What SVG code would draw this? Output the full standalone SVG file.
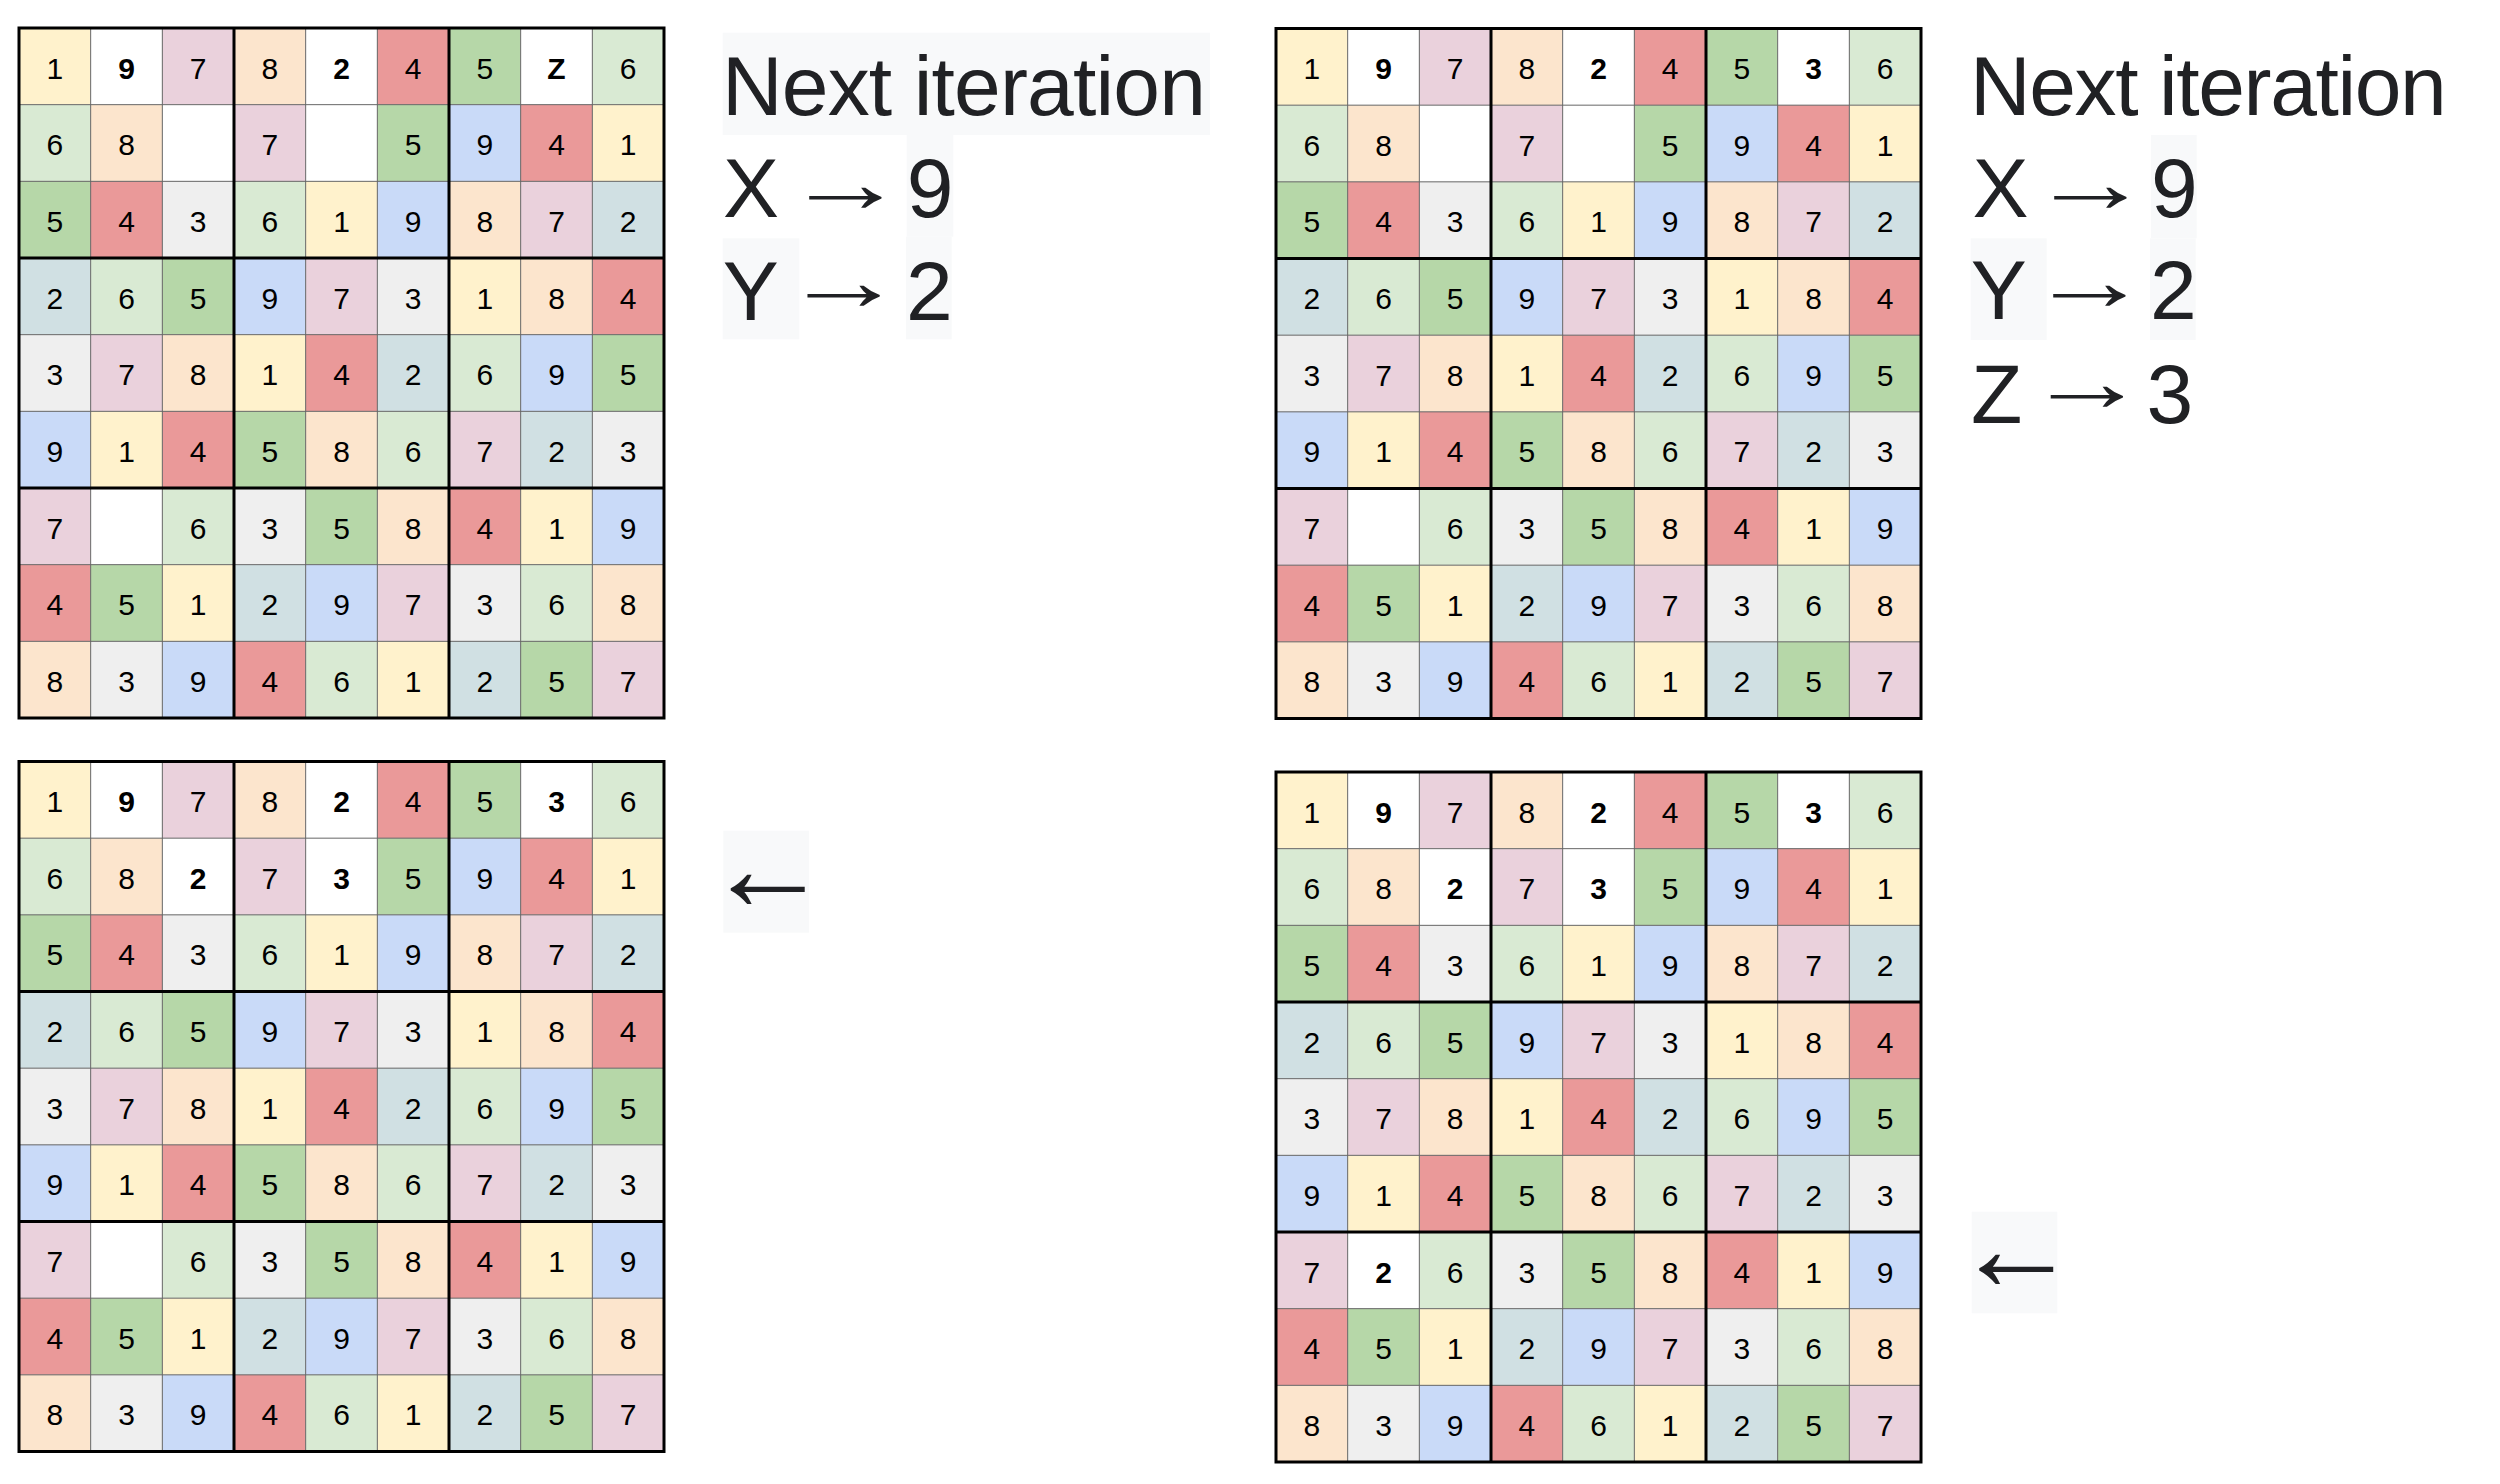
<svg xmlns="http://www.w3.org/2000/svg" width="2500" height="1484" viewBox="0 0 2500 1484">
<style>
.d1{fill:#fff2cc}.d2{fill:#d0e0e3}.d3{fill:#efefef}.d4{fill:#ea9999}.d5{fill:#b6d7a8}.d6{fill:#d9ead3}.d7{fill:#ead1dc}.d8{fill:#fce5cd}.d9{fill:#c9daf8}.w{fill:#ffffff}
.board text{font-family:"Liberation Sans",Arial,sans-serif;font-size:30px;text-anchor:middle;fill:#000}
.board text.b{font-weight:bold}
.thin{fill:none;stroke:#666;stroke-width:1}
.thick{fill:none;stroke:#000;stroke-width:3;stroke-linecap:square}
.hl{fill:#f8f9fa}
.lbl{font-family:"Liberation Sans",Arial,sans-serif;font-size:84px;fill:#202124}
.ra{font-family:"Liberation Sans",Arial,sans-serif;font-size:86px;fill:#202124}
.arr{font-family:"Liberation Sans",Arial,sans-serif;font-size:125px;fill:#202124}
</style>
<defs>
<path id="gl" d="M71.67 0V690M143.33 0V690M286.67 0V690M358.33 0V690M501.67 0V690M573.33 0V690M0 76.67H645M0 153.33H645M0 306.67H645M0 383.33H645M0 536.67H645M0 613.33H645"/>
</defs>

<g id="board1" class="board" transform="translate(19,28)">
<g transform="translate(0,0)"><rect class="d1" x="0" width="71.67" height="76.67"/><rect class="w" x="71.67" width="71.67" height="76.67"/><rect class="d7" x="143.33" width="71.67" height="76.67"/><rect class="d8" x="215" width="71.67" height="76.67"/><rect class="w" x="286.67" width="71.67" height="76.67"/><rect class="d4" x="358.33" width="71.67" height="76.67"/><rect class="d5" x="430" width="71.67" height="76.67"/><rect class="w" x="501.67" width="71.67" height="76.67"/><rect class="d6" x="573.33" width="71.67" height="76.67"/><text x="35.8" y="50.5">1</text><text class="b" x="107.5" y="50.5">9</text><text x="179.2" y="50.5">7</text><text x="250.8" y="50.5">8</text><text class="b" x="322.5" y="50.5">2</text><text x="394.2" y="50.5">4</text><text x="465.8" y="50.5">5</text><text class="b" x="537.5" y="50.5">Z</text><text x="609.2" y="50.5">6</text></g>
<g transform="translate(0,76.67)"><rect class="d6" x="0" width="71.67" height="76.67"/><rect class="d8" x="71.67" width="71.67" height="76.67"/><rect class="w" x="143.33" width="71.67" height="76.67"/><rect class="d7" x="215" width="71.67" height="76.67"/><rect class="w" x="286.67" width="71.67" height="76.67"/><rect class="d5" x="358.33" width="71.67" height="76.67"/><rect class="d9" x="430" width="71.67" height="76.67"/><rect class="d4" x="501.67" width="71.67" height="76.67"/><rect class="d1" x="573.33" width="71.67" height="76.67"/><text x="35.8" y="50.5">6</text><text x="107.5" y="50.5">8</text><text x="250.8" y="50.5">7</text><text x="394.2" y="50.5">5</text><text x="465.8" y="50.5">9</text><text x="537.5" y="50.5">4</text><text x="609.2" y="50.5">1</text></g>
<g transform="translate(0,153.33)"><rect class="d5" x="0" width="71.67" height="76.67"/><rect class="d4" x="71.67" width="71.67" height="76.67"/><rect class="d3" x="143.33" width="71.67" height="76.67"/><rect class="d6" x="215" width="71.67" height="76.67"/><rect class="d1" x="286.67" width="71.67" height="76.67"/><rect class="d9" x="358.33" width="71.67" height="76.67"/><rect class="d8" x="430" width="71.67" height="76.67"/><rect class="d7" x="501.67" width="71.67" height="76.67"/><rect class="d2" x="573.33" width="71.67" height="76.67"/><text x="35.8" y="50.5">5</text><text x="107.5" y="50.5">4</text><text x="179.2" y="50.5">3</text><text x="250.8" y="50.5">6</text><text x="322.5" y="50.5">1</text><text x="394.2" y="50.5">9</text><text x="465.8" y="50.5">8</text><text x="537.5" y="50.5">7</text><text x="609.2" y="50.5">2</text></g>
<g transform="translate(0,230)"><rect class="d2" x="0" width="71.67" height="76.67"/><rect class="d6" x="71.67" width="71.67" height="76.67"/><rect class="d5" x="143.33" width="71.67" height="76.67"/><rect class="d9" x="215" width="71.67" height="76.67"/><rect class="d7" x="286.67" width="71.67" height="76.67"/><rect class="d3" x="358.33" width="71.67" height="76.67"/><rect class="d1" x="430" width="71.67" height="76.67"/><rect class="d8" x="501.67" width="71.67" height="76.67"/><rect class="d4" x="573.33" width="71.67" height="76.67"/><text x="35.8" y="50.5">2</text><text x="107.5" y="50.5">6</text><text x="179.2" y="50.5">5</text><text x="250.8" y="50.5">9</text><text x="322.5" y="50.5">7</text><text x="394.2" y="50.5">3</text><text x="465.8" y="50.5">1</text><text x="537.5" y="50.5">8</text><text x="609.2" y="50.5">4</text></g>
<g transform="translate(0,306.67)"><rect class="d3" x="0" width="71.67" height="76.67"/><rect class="d7" x="71.67" width="71.67" height="76.67"/><rect class="d8" x="143.33" width="71.67" height="76.67"/><rect class="d1" x="215" width="71.67" height="76.67"/><rect class="d4" x="286.67" width="71.67" height="76.67"/><rect class="d2" x="358.33" width="71.67" height="76.67"/><rect class="d6" x="430" width="71.67" height="76.67"/><rect class="d9" x="501.67" width="71.67" height="76.67"/><rect class="d5" x="573.33" width="71.67" height="76.67"/><text x="35.8" y="50.5">3</text><text x="107.5" y="50.5">7</text><text x="179.2" y="50.5">8</text><text x="250.8" y="50.5">1</text><text x="322.5" y="50.5">4</text><text x="394.2" y="50.5">2</text><text x="465.8" y="50.5">6</text><text x="537.5" y="50.5">9</text><text x="609.2" y="50.5">5</text></g>
<g transform="translate(0,383.33)"><rect class="d9" x="0" width="71.67" height="76.67"/><rect class="d1" x="71.67" width="71.67" height="76.67"/><rect class="d4" x="143.33" width="71.67" height="76.67"/><rect class="d5" x="215" width="71.67" height="76.67"/><rect class="d8" x="286.67" width="71.67" height="76.67"/><rect class="d6" x="358.33" width="71.67" height="76.67"/><rect class="d7" x="430" width="71.67" height="76.67"/><rect class="d2" x="501.67" width="71.67" height="76.67"/><rect class="d3" x="573.33" width="71.67" height="76.67"/><text x="35.8" y="50.5">9</text><text x="107.5" y="50.5">1</text><text x="179.2" y="50.5">4</text><text x="250.8" y="50.5">5</text><text x="322.5" y="50.5">8</text><text x="394.2" y="50.5">6</text><text x="465.8" y="50.5">7</text><text x="537.5" y="50.5">2</text><text x="609.2" y="50.5">3</text></g>
<g transform="translate(0,460)"><rect class="d7" x="0" width="71.67" height="76.67"/><rect class="w" x="71.67" width="71.67" height="76.67"/><rect class="d6" x="143.33" width="71.67" height="76.67"/><rect class="d3" x="215" width="71.67" height="76.67"/><rect class="d5" x="286.67" width="71.67" height="76.67"/><rect class="d8" x="358.33" width="71.67" height="76.67"/><rect class="d4" x="430" width="71.67" height="76.67"/><rect class="d1" x="501.67" width="71.67" height="76.67"/><rect class="d9" x="573.33" width="71.67" height="76.67"/><text x="35.8" y="50.5">7</text><text x="179.2" y="50.5">6</text><text x="250.8" y="50.5">3</text><text x="322.5" y="50.5">5</text><text x="394.2" y="50.5">8</text><text x="465.8" y="50.5">4</text><text x="537.5" y="50.5">1</text><text x="609.2" y="50.5">9</text></g>
<g transform="translate(0,536.67)"><rect class="d4" x="0" width="71.67" height="76.67"/><rect class="d5" x="71.67" width="71.67" height="76.67"/><rect class="d1" x="143.33" width="71.67" height="76.67"/><rect class="d2" x="215" width="71.67" height="76.67"/><rect class="d9" x="286.67" width="71.67" height="76.67"/><rect class="d7" x="358.33" width="71.67" height="76.67"/><rect class="d3" x="430" width="71.67" height="76.67"/><rect class="d6" x="501.67" width="71.67" height="76.67"/><rect class="d8" x="573.33" width="71.67" height="76.67"/><text x="35.8" y="50.5">4</text><text x="107.5" y="50.5">5</text><text x="179.2" y="50.5">1</text><text x="250.8" y="50.5">2</text><text x="322.5" y="50.5">9</text><text x="394.2" y="50.5">7</text><text x="465.8" y="50.5">3</text><text x="537.5" y="50.5">6</text><text x="609.2" y="50.5">8</text></g>
<g transform="translate(0,613.33)"><rect class="d8" x="0" width="71.67" height="76.67"/><rect class="d3" x="71.67" width="71.67" height="76.67"/><rect class="d9" x="143.33" width="71.67" height="76.67"/><rect class="d4" x="215" width="71.67" height="76.67"/><rect class="d6" x="286.67" width="71.67" height="76.67"/><rect class="d1" x="358.33" width="71.67" height="76.67"/><rect class="d2" x="430" width="71.67" height="76.67"/><rect class="d5" x="501.67" width="71.67" height="76.67"/><rect class="d7" x="573.33" width="71.67" height="76.67"/><text x="35.8" y="50.5">8</text><text x="107.5" y="50.5">3</text><text x="179.2" y="50.5">9</text><text x="250.8" y="50.5">4</text><text x="322.5" y="50.5">6</text><text x="394.2" y="50.5">1</text><text x="465.8" y="50.5">2</text><text x="537.5" y="50.5">5</text><text x="609.2" y="50.5">7</text></g>
<use href="#gl" class="thin"/>
<path class="thick" d="M0 0H645V690H0ZM215 0V690M430 0V690M0 230H645M0 460H645"/>
</g>

<g id="board2" class="board" transform="translate(1276,28.5)">
<g transform="translate(0,0)"><rect class="d1" x="0" width="71.67" height="76.67"/><rect class="w" x="71.67" width="71.67" height="76.67"/><rect class="d7" x="143.33" width="71.67" height="76.67"/><rect class="d8" x="215" width="71.67" height="76.67"/><rect class="w" x="286.67" width="71.67" height="76.67"/><rect class="d4" x="358.33" width="71.67" height="76.67"/><rect class="d5" x="430" width="71.67" height="76.67"/><rect class="w" x="501.67" width="71.67" height="76.67"/><rect class="d6" x="573.33" width="71.67" height="76.67"/><text x="35.8" y="50.5">1</text><text class="b" x="107.5" y="50.5">9</text><text x="179.2" y="50.5">7</text><text x="250.8" y="50.5">8</text><text class="b" x="322.5" y="50.5">2</text><text x="394.2" y="50.5">4</text><text x="465.8" y="50.5">5</text><text class="b" x="537.5" y="50.5">3</text><text x="609.2" y="50.5">6</text></g>
<g transform="translate(0,76.67)"><rect class="d6" x="0" width="71.67" height="76.67"/><rect class="d8" x="71.67" width="71.67" height="76.67"/><rect class="w" x="143.33" width="71.67" height="76.67"/><rect class="d7" x="215" width="71.67" height="76.67"/><rect class="w" x="286.67" width="71.67" height="76.67"/><rect class="d5" x="358.33" width="71.67" height="76.67"/><rect class="d9" x="430" width="71.67" height="76.67"/><rect class="d4" x="501.67" width="71.67" height="76.67"/><rect class="d1" x="573.33" width="71.67" height="76.67"/><text x="35.8" y="50.5">6</text><text x="107.5" y="50.5">8</text><text x="250.8" y="50.5">7</text><text x="394.2" y="50.5">5</text><text x="465.8" y="50.5">9</text><text x="537.5" y="50.5">4</text><text x="609.2" y="50.5">1</text></g>
<g transform="translate(0,153.33)"><rect class="d5" x="0" width="71.67" height="76.67"/><rect class="d4" x="71.67" width="71.67" height="76.67"/><rect class="d3" x="143.33" width="71.67" height="76.67"/><rect class="d6" x="215" width="71.67" height="76.67"/><rect class="d1" x="286.67" width="71.67" height="76.67"/><rect class="d9" x="358.33" width="71.67" height="76.67"/><rect class="d8" x="430" width="71.67" height="76.67"/><rect class="d7" x="501.67" width="71.67" height="76.67"/><rect class="d2" x="573.33" width="71.67" height="76.67"/><text x="35.8" y="50.5">5</text><text x="107.5" y="50.5">4</text><text x="179.2" y="50.5">3</text><text x="250.8" y="50.5">6</text><text x="322.5" y="50.5">1</text><text x="394.2" y="50.5">9</text><text x="465.8" y="50.5">8</text><text x="537.5" y="50.5">7</text><text x="609.2" y="50.5">2</text></g>
<g transform="translate(0,230)"><rect class="d2" x="0" width="71.67" height="76.67"/><rect class="d6" x="71.67" width="71.67" height="76.67"/><rect class="d5" x="143.33" width="71.67" height="76.67"/><rect class="d9" x="215" width="71.67" height="76.67"/><rect class="d7" x="286.67" width="71.67" height="76.67"/><rect class="d3" x="358.33" width="71.67" height="76.67"/><rect class="d1" x="430" width="71.67" height="76.67"/><rect class="d8" x="501.67" width="71.67" height="76.67"/><rect class="d4" x="573.33" width="71.67" height="76.67"/><text x="35.8" y="50.5">2</text><text x="107.5" y="50.5">6</text><text x="179.2" y="50.5">5</text><text x="250.8" y="50.5">9</text><text x="322.5" y="50.5">7</text><text x="394.2" y="50.5">3</text><text x="465.8" y="50.5">1</text><text x="537.5" y="50.5">8</text><text x="609.2" y="50.5">4</text></g>
<g transform="translate(0,306.67)"><rect class="d3" x="0" width="71.67" height="76.67"/><rect class="d7" x="71.67" width="71.67" height="76.67"/><rect class="d8" x="143.33" width="71.67" height="76.67"/><rect class="d1" x="215" width="71.67" height="76.67"/><rect class="d4" x="286.67" width="71.67" height="76.67"/><rect class="d2" x="358.33" width="71.67" height="76.67"/><rect class="d6" x="430" width="71.67" height="76.67"/><rect class="d9" x="501.67" width="71.67" height="76.67"/><rect class="d5" x="573.33" width="71.67" height="76.67"/><text x="35.8" y="50.5">3</text><text x="107.5" y="50.5">7</text><text x="179.2" y="50.5">8</text><text x="250.8" y="50.5">1</text><text x="322.5" y="50.5">4</text><text x="394.2" y="50.5">2</text><text x="465.8" y="50.5">6</text><text x="537.5" y="50.5">9</text><text x="609.2" y="50.5">5</text></g>
<g transform="translate(0,383.33)"><rect class="d9" x="0" width="71.67" height="76.67"/><rect class="d1" x="71.67" width="71.67" height="76.67"/><rect class="d4" x="143.33" width="71.67" height="76.67"/><rect class="d5" x="215" width="71.67" height="76.67"/><rect class="d8" x="286.67" width="71.67" height="76.67"/><rect class="d6" x="358.33" width="71.67" height="76.67"/><rect class="d7" x="430" width="71.67" height="76.67"/><rect class="d2" x="501.67" width="71.67" height="76.67"/><rect class="d3" x="573.33" width="71.67" height="76.67"/><text x="35.8" y="50.5">9</text><text x="107.5" y="50.5">1</text><text x="179.2" y="50.5">4</text><text x="250.8" y="50.5">5</text><text x="322.5" y="50.5">8</text><text x="394.2" y="50.5">6</text><text x="465.8" y="50.5">7</text><text x="537.5" y="50.5">2</text><text x="609.2" y="50.5">3</text></g>
<g transform="translate(0,460)"><rect class="d7" x="0" width="71.67" height="76.67"/><rect class="w" x="71.67" width="71.67" height="76.67"/><rect class="d6" x="143.33" width="71.67" height="76.67"/><rect class="d3" x="215" width="71.67" height="76.67"/><rect class="d5" x="286.67" width="71.67" height="76.67"/><rect class="d8" x="358.33" width="71.67" height="76.67"/><rect class="d4" x="430" width="71.67" height="76.67"/><rect class="d1" x="501.67" width="71.67" height="76.67"/><rect class="d9" x="573.33" width="71.67" height="76.67"/><text x="35.8" y="50.5">7</text><text x="179.2" y="50.5">6</text><text x="250.8" y="50.5">3</text><text x="322.5" y="50.5">5</text><text x="394.2" y="50.5">8</text><text x="465.8" y="50.5">4</text><text x="537.5" y="50.5">1</text><text x="609.2" y="50.5">9</text></g>
<g transform="translate(0,536.67)"><rect class="d4" x="0" width="71.67" height="76.67"/><rect class="d5" x="71.67" width="71.67" height="76.67"/><rect class="d1" x="143.33" width="71.67" height="76.67"/><rect class="d2" x="215" width="71.67" height="76.67"/><rect class="d9" x="286.67" width="71.67" height="76.67"/><rect class="d7" x="358.33" width="71.67" height="76.67"/><rect class="d3" x="430" width="71.67" height="76.67"/><rect class="d6" x="501.67" width="71.67" height="76.67"/><rect class="d8" x="573.33" width="71.67" height="76.67"/><text x="35.8" y="50.5">4</text><text x="107.5" y="50.5">5</text><text x="179.2" y="50.5">1</text><text x="250.8" y="50.5">2</text><text x="322.5" y="50.5">9</text><text x="394.2" y="50.5">7</text><text x="465.8" y="50.5">3</text><text x="537.5" y="50.5">6</text><text x="609.2" y="50.5">8</text></g>
<g transform="translate(0,613.33)"><rect class="d8" x="0" width="71.67" height="76.67"/><rect class="d3" x="71.67" width="71.67" height="76.67"/><rect class="d9" x="143.33" width="71.67" height="76.67"/><rect class="d4" x="215" width="71.67" height="76.67"/><rect class="d6" x="286.67" width="71.67" height="76.67"/><rect class="d1" x="358.33" width="71.67" height="76.67"/><rect class="d2" x="430" width="71.67" height="76.67"/><rect class="d5" x="501.67" width="71.67" height="76.67"/><rect class="d7" x="573.33" width="71.67" height="76.67"/><text x="35.8" y="50.5">8</text><text x="107.5" y="50.5">3</text><text x="179.2" y="50.5">9</text><text x="250.8" y="50.5">4</text><text x="322.5" y="50.5">6</text><text x="394.2" y="50.5">1</text><text x="465.8" y="50.5">2</text><text x="537.5" y="50.5">5</text><text x="609.2" y="50.5">7</text></g>
<use href="#gl" class="thin"/>
<path class="thick" d="M0 0H645V690H0ZM215 0V690M430 0V690M0 230H645M0 460H645"/>
</g>

<g id="board3" class="board" transform="translate(19,761.5)">
<g transform="translate(0,0)"><rect class="d1" x="0" width="71.67" height="76.67"/><rect class="w" x="71.67" width="71.67" height="76.67"/><rect class="d7" x="143.33" width="71.67" height="76.67"/><rect class="d8" x="215" width="71.67" height="76.67"/><rect class="w" x="286.67" width="71.67" height="76.67"/><rect class="d4" x="358.33" width="71.67" height="76.67"/><rect class="d5" x="430" width="71.67" height="76.67"/><rect class="w" x="501.67" width="71.67" height="76.67"/><rect class="d6" x="573.33" width="71.67" height="76.67"/><text x="35.8" y="50.5">1</text><text class="b" x="107.5" y="50.5">9</text><text x="179.2" y="50.5">7</text><text x="250.8" y="50.5">8</text><text class="b" x="322.5" y="50.5">2</text><text x="394.2" y="50.5">4</text><text x="465.8" y="50.5">5</text><text class="b" x="537.5" y="50.5">3</text><text x="609.2" y="50.5">6</text></g>
<g transform="translate(0,76.67)"><rect class="d6" x="0" width="71.67" height="76.67"/><rect class="d8" x="71.67" width="71.67" height="76.67"/><rect class="w" x="143.33" width="71.67" height="76.67"/><rect class="d7" x="215" width="71.67" height="76.67"/><rect class="w" x="286.67" width="71.67" height="76.67"/><rect class="d5" x="358.33" width="71.67" height="76.67"/><rect class="d9" x="430" width="71.67" height="76.67"/><rect class="d4" x="501.67" width="71.67" height="76.67"/><rect class="d1" x="573.33" width="71.67" height="76.67"/><text x="35.8" y="50.5">6</text><text x="107.5" y="50.5">8</text><text class="b" x="179.2" y="50.5">2</text><text x="250.8" y="50.5">7</text><text class="b" x="322.5" y="50.5">3</text><text x="394.2" y="50.5">5</text><text x="465.8" y="50.5">9</text><text x="537.5" y="50.5">4</text><text x="609.2" y="50.5">1</text></g>
<g transform="translate(0,153.33)"><rect class="d5" x="0" width="71.67" height="76.67"/><rect class="d4" x="71.67" width="71.67" height="76.67"/><rect class="d3" x="143.33" width="71.67" height="76.67"/><rect class="d6" x="215" width="71.67" height="76.67"/><rect class="d1" x="286.67" width="71.67" height="76.67"/><rect class="d9" x="358.33" width="71.67" height="76.67"/><rect class="d8" x="430" width="71.67" height="76.67"/><rect class="d7" x="501.67" width="71.67" height="76.67"/><rect class="d2" x="573.33" width="71.67" height="76.67"/><text x="35.8" y="50.5">5</text><text x="107.5" y="50.5">4</text><text x="179.2" y="50.5">3</text><text x="250.8" y="50.5">6</text><text x="322.5" y="50.5">1</text><text x="394.2" y="50.5">9</text><text x="465.8" y="50.5">8</text><text x="537.5" y="50.5">7</text><text x="609.2" y="50.5">2</text></g>
<g transform="translate(0,230)"><rect class="d2" x="0" width="71.67" height="76.67"/><rect class="d6" x="71.67" width="71.67" height="76.67"/><rect class="d5" x="143.33" width="71.67" height="76.67"/><rect class="d9" x="215" width="71.67" height="76.67"/><rect class="d7" x="286.67" width="71.67" height="76.67"/><rect class="d3" x="358.33" width="71.67" height="76.67"/><rect class="d1" x="430" width="71.67" height="76.67"/><rect class="d8" x="501.67" width="71.67" height="76.67"/><rect class="d4" x="573.33" width="71.67" height="76.67"/><text x="35.8" y="50.5">2</text><text x="107.5" y="50.5">6</text><text x="179.2" y="50.5">5</text><text x="250.8" y="50.5">9</text><text x="322.5" y="50.5">7</text><text x="394.2" y="50.5">3</text><text x="465.8" y="50.5">1</text><text x="537.5" y="50.5">8</text><text x="609.2" y="50.5">4</text></g>
<g transform="translate(0,306.67)"><rect class="d3" x="0" width="71.67" height="76.67"/><rect class="d7" x="71.67" width="71.67" height="76.67"/><rect class="d8" x="143.33" width="71.67" height="76.67"/><rect class="d1" x="215" width="71.67" height="76.67"/><rect class="d4" x="286.67" width="71.67" height="76.67"/><rect class="d2" x="358.33" width="71.67" height="76.67"/><rect class="d6" x="430" width="71.67" height="76.67"/><rect class="d9" x="501.67" width="71.67" height="76.67"/><rect class="d5" x="573.33" width="71.67" height="76.67"/><text x="35.8" y="50.5">3</text><text x="107.5" y="50.5">7</text><text x="179.2" y="50.5">8</text><text x="250.8" y="50.5">1</text><text x="322.5" y="50.5">4</text><text x="394.2" y="50.5">2</text><text x="465.8" y="50.5">6</text><text x="537.5" y="50.5">9</text><text x="609.2" y="50.5">5</text></g>
<g transform="translate(0,383.33)"><rect class="d9" x="0" width="71.67" height="76.67"/><rect class="d1" x="71.67" width="71.67" height="76.67"/><rect class="d4" x="143.33" width="71.67" height="76.67"/><rect class="d5" x="215" width="71.67" height="76.67"/><rect class="d8" x="286.67" width="71.67" height="76.67"/><rect class="d6" x="358.33" width="71.67" height="76.67"/><rect class="d7" x="430" width="71.67" height="76.67"/><rect class="d2" x="501.67" width="71.67" height="76.67"/><rect class="d3" x="573.33" width="71.67" height="76.67"/><text x="35.8" y="50.5">9</text><text x="107.5" y="50.5">1</text><text x="179.2" y="50.5">4</text><text x="250.8" y="50.5">5</text><text x="322.5" y="50.5">8</text><text x="394.2" y="50.5">6</text><text x="465.8" y="50.5">7</text><text x="537.5" y="50.5">2</text><text x="609.2" y="50.5">3</text></g>
<g transform="translate(0,460)"><rect class="d7" x="0" width="71.67" height="76.67"/><rect class="w" x="71.67" width="71.67" height="76.67"/><rect class="d6" x="143.33" width="71.67" height="76.67"/><rect class="d3" x="215" width="71.67" height="76.67"/><rect class="d5" x="286.67" width="71.67" height="76.67"/><rect class="d8" x="358.33" width="71.67" height="76.67"/><rect class="d4" x="430" width="71.67" height="76.67"/><rect class="d1" x="501.67" width="71.67" height="76.67"/><rect class="d9" x="573.33" width="71.67" height="76.67"/><text x="35.8" y="50.5">7</text><text x="179.2" y="50.5">6</text><text x="250.8" y="50.5">3</text><text x="322.5" y="50.5">5</text><text x="394.2" y="50.5">8</text><text x="465.8" y="50.5">4</text><text x="537.5" y="50.5">1</text><text x="609.2" y="50.5">9</text></g>
<g transform="translate(0,536.67)"><rect class="d4" x="0" width="71.67" height="76.67"/><rect class="d5" x="71.67" width="71.67" height="76.67"/><rect class="d1" x="143.33" width="71.67" height="76.67"/><rect class="d2" x="215" width="71.67" height="76.67"/><rect class="d9" x="286.67" width="71.67" height="76.67"/><rect class="d7" x="358.33" width="71.67" height="76.67"/><rect class="d3" x="430" width="71.67" height="76.67"/><rect class="d6" x="501.67" width="71.67" height="76.67"/><rect class="d8" x="573.33" width="71.67" height="76.67"/><text x="35.8" y="50.5">4</text><text x="107.5" y="50.5">5</text><text x="179.2" y="50.5">1</text><text x="250.8" y="50.5">2</text><text x="322.5" y="50.5">9</text><text x="394.2" y="50.5">7</text><text x="465.8" y="50.5">3</text><text x="537.5" y="50.5">6</text><text x="609.2" y="50.5">8</text></g>
<g transform="translate(0,613.33)"><rect class="d8" x="0" width="71.67" height="76.67"/><rect class="d3" x="71.67" width="71.67" height="76.67"/><rect class="d9" x="143.33" width="71.67" height="76.67"/><rect class="d4" x="215" width="71.67" height="76.67"/><rect class="d6" x="286.67" width="71.67" height="76.67"/><rect class="d1" x="358.33" width="71.67" height="76.67"/><rect class="d2" x="430" width="71.67" height="76.67"/><rect class="d5" x="501.67" width="71.67" height="76.67"/><rect class="d7" x="573.33" width="71.67" height="76.67"/><text x="35.8" y="50.5">8</text><text x="107.5" y="50.5">3</text><text x="179.2" y="50.5">9</text><text x="250.8" y="50.5">4</text><text x="322.5" y="50.5">6</text><text x="394.2" y="50.5">1</text><text x="465.8" y="50.5">2</text><text x="537.5" y="50.5">5</text><text x="609.2" y="50.5">7</text></g>
<use href="#gl" class="thin"/>
<path class="thick" d="M0 0H645V690H0ZM215 0V690M430 0V690M0 230H645M0 460H645"/>
</g>

<g id="board4" class="board" transform="translate(1276,772)">
<g transform="translate(0,0)"><rect class="d1" x="0" width="71.67" height="76.67"/><rect class="w" x="71.67" width="71.67" height="76.67"/><rect class="d7" x="143.33" width="71.67" height="76.67"/><rect class="d8" x="215" width="71.67" height="76.67"/><rect class="w" x="286.67" width="71.67" height="76.67"/><rect class="d4" x="358.33" width="71.67" height="76.67"/><rect class="d5" x="430" width="71.67" height="76.67"/><rect class="w" x="501.67" width="71.67" height="76.67"/><rect class="d6" x="573.33" width="71.67" height="76.67"/><text x="35.8" y="50.5">1</text><text class="b" x="107.5" y="50.5">9</text><text x="179.2" y="50.5">7</text><text x="250.8" y="50.5">8</text><text class="b" x="322.5" y="50.5">2</text><text x="394.2" y="50.5">4</text><text x="465.8" y="50.5">5</text><text class="b" x="537.5" y="50.5">3</text><text x="609.2" y="50.5">6</text></g>
<g transform="translate(0,76.67)"><rect class="d6" x="0" width="71.67" height="76.67"/><rect class="d8" x="71.67" width="71.67" height="76.67"/><rect class="w" x="143.33" width="71.67" height="76.67"/><rect class="d7" x="215" width="71.67" height="76.67"/><rect class="w" x="286.67" width="71.67" height="76.67"/><rect class="d5" x="358.33" width="71.67" height="76.67"/><rect class="d9" x="430" width="71.67" height="76.67"/><rect class="d4" x="501.67" width="71.67" height="76.67"/><rect class="d1" x="573.33" width="71.67" height="76.67"/><text x="35.8" y="50.5">6</text><text x="107.5" y="50.5">8</text><text class="b" x="179.2" y="50.5">2</text><text x="250.8" y="50.5">7</text><text class="b" x="322.5" y="50.5">3</text><text x="394.2" y="50.5">5</text><text x="465.8" y="50.5">9</text><text x="537.5" y="50.5">4</text><text x="609.2" y="50.5">1</text></g>
<g transform="translate(0,153.33)"><rect class="d5" x="0" width="71.67" height="76.67"/><rect class="d4" x="71.67" width="71.67" height="76.67"/><rect class="d3" x="143.33" width="71.67" height="76.67"/><rect class="d6" x="215" width="71.67" height="76.67"/><rect class="d1" x="286.67" width="71.67" height="76.67"/><rect class="d9" x="358.33" width="71.67" height="76.67"/><rect class="d8" x="430" width="71.67" height="76.67"/><rect class="d7" x="501.67" width="71.67" height="76.67"/><rect class="d2" x="573.33" width="71.67" height="76.67"/><text x="35.8" y="50.5">5</text><text x="107.5" y="50.5">4</text><text x="179.2" y="50.5">3</text><text x="250.8" y="50.5">6</text><text x="322.5" y="50.5">1</text><text x="394.2" y="50.5">9</text><text x="465.8" y="50.5">8</text><text x="537.5" y="50.5">7</text><text x="609.2" y="50.5">2</text></g>
<g transform="translate(0,230)"><rect class="d2" x="0" width="71.67" height="76.67"/><rect class="d6" x="71.67" width="71.67" height="76.67"/><rect class="d5" x="143.33" width="71.67" height="76.67"/><rect class="d9" x="215" width="71.67" height="76.67"/><rect class="d7" x="286.67" width="71.67" height="76.67"/><rect class="d3" x="358.33" width="71.67" height="76.67"/><rect class="d1" x="430" width="71.67" height="76.67"/><rect class="d8" x="501.67" width="71.67" height="76.67"/><rect class="d4" x="573.33" width="71.67" height="76.67"/><text x="35.8" y="50.5">2</text><text x="107.5" y="50.5">6</text><text x="179.2" y="50.5">5</text><text x="250.8" y="50.5">9</text><text x="322.5" y="50.5">7</text><text x="394.2" y="50.5">3</text><text x="465.8" y="50.5">1</text><text x="537.5" y="50.5">8</text><text x="609.2" y="50.5">4</text></g>
<g transform="translate(0,306.67)"><rect class="d3" x="0" width="71.67" height="76.67"/><rect class="d7" x="71.67" width="71.67" height="76.67"/><rect class="d8" x="143.33" width="71.67" height="76.67"/><rect class="d1" x="215" width="71.67" height="76.67"/><rect class="d4" x="286.67" width="71.67" height="76.67"/><rect class="d2" x="358.33" width="71.67" height="76.67"/><rect class="d6" x="430" width="71.67" height="76.67"/><rect class="d9" x="501.67" width="71.67" height="76.67"/><rect class="d5" x="573.33" width="71.67" height="76.67"/><text x="35.8" y="50.5">3</text><text x="107.5" y="50.5">7</text><text x="179.2" y="50.5">8</text><text x="250.8" y="50.5">1</text><text x="322.5" y="50.5">4</text><text x="394.2" y="50.5">2</text><text x="465.8" y="50.5">6</text><text x="537.5" y="50.5">9</text><text x="609.2" y="50.5">5</text></g>
<g transform="translate(0,383.33)"><rect class="d9" x="0" width="71.67" height="76.67"/><rect class="d1" x="71.67" width="71.67" height="76.67"/><rect class="d4" x="143.33" width="71.67" height="76.67"/><rect class="d5" x="215" width="71.67" height="76.67"/><rect class="d8" x="286.67" width="71.67" height="76.67"/><rect class="d6" x="358.33" width="71.67" height="76.67"/><rect class="d7" x="430" width="71.67" height="76.67"/><rect class="d2" x="501.67" width="71.67" height="76.67"/><rect class="d3" x="573.33" width="71.67" height="76.67"/><text x="35.8" y="50.5">9</text><text x="107.5" y="50.5">1</text><text x="179.2" y="50.5">4</text><text x="250.8" y="50.5">5</text><text x="322.5" y="50.5">8</text><text x="394.2" y="50.5">6</text><text x="465.8" y="50.5">7</text><text x="537.5" y="50.5">2</text><text x="609.2" y="50.5">3</text></g>
<g transform="translate(0,460)"><rect class="d7" x="0" width="71.67" height="76.67"/><rect class="w" x="71.67" width="71.67" height="76.67"/><rect class="d6" x="143.33" width="71.67" height="76.67"/><rect class="d3" x="215" width="71.67" height="76.67"/><rect class="d5" x="286.67" width="71.67" height="76.67"/><rect class="d8" x="358.33" width="71.67" height="76.67"/><rect class="d4" x="430" width="71.67" height="76.67"/><rect class="d1" x="501.67" width="71.67" height="76.67"/><rect class="d9" x="573.33" width="71.67" height="76.67"/><text x="35.8" y="50.5">7</text><text class="b" x="107.5" y="50.5">2</text><text x="179.2" y="50.5">6</text><text x="250.8" y="50.5">3</text><text x="322.5" y="50.5">5</text><text x="394.2" y="50.5">8</text><text x="465.8" y="50.5">4</text><text x="537.5" y="50.5">1</text><text x="609.2" y="50.5">9</text></g>
<g transform="translate(0,536.67)"><rect class="d4" x="0" width="71.67" height="76.67"/><rect class="d5" x="71.67" width="71.67" height="76.67"/><rect class="d1" x="143.33" width="71.67" height="76.67"/><rect class="d2" x="215" width="71.67" height="76.67"/><rect class="d9" x="286.67" width="71.67" height="76.67"/><rect class="d7" x="358.33" width="71.67" height="76.67"/><rect class="d3" x="430" width="71.67" height="76.67"/><rect class="d6" x="501.67" width="71.67" height="76.67"/><rect class="d8" x="573.33" width="71.67" height="76.67"/><text x="35.8" y="50.5">4</text><text x="107.5" y="50.5">5</text><text x="179.2" y="50.5">1</text><text x="250.8" y="50.5">2</text><text x="322.5" y="50.5">9</text><text x="394.2" y="50.5">7</text><text x="465.8" y="50.5">3</text><text x="537.5" y="50.5">6</text><text x="609.2" y="50.5">8</text></g>
<g transform="translate(0,613.33)"><rect class="d8" x="0" width="71.67" height="76.67"/><rect class="d3" x="71.67" width="71.67" height="76.67"/><rect class="d9" x="143.33" width="71.67" height="76.67"/><rect class="d4" x="215" width="71.67" height="76.67"/><rect class="d6" x="286.67" width="71.67" height="76.67"/><rect class="d1" x="358.33" width="71.67" height="76.67"/><rect class="d2" x="430" width="71.67" height="76.67"/><rect class="d5" x="501.67" width="71.67" height="76.67"/><rect class="d7" x="573.33" width="71.67" height="76.67"/><text x="35.8" y="50.5">8</text><text x="107.5" y="50.5">3</text><text x="179.2" y="50.5">9</text><text x="250.8" y="50.5">4</text><text x="322.5" y="50.5">6</text><text x="394.2" y="50.5">1</text><text x="465.8" y="50.5">2</text><text x="537.5" y="50.5">5</text><text x="609.2" y="50.5">7</text></g>
<use href="#gl" class="thin"/>
<path class="thick" d="M0 0H645V690H0ZM215 0V690M430 0V690M0 230H645M0 460H645"/>
</g>

<g id="label1">
<rect class="hl" x="722.7" y="32.7" width="487.3" height="102.3"/>
<rect class="hl" x="906.7" y="135" width="46.6" height="101.7"/>
<rect class="hl" x="722.7" y="238.3" width="76.6" height="101"/>
<rect class="hl" x="906" y="236.7" width="45.7" height="102.6"/>
<text class="lbl" x="722" y="115" letter-spacing="-0.85">Next iteration</text>
<text class="lbl" x="723" y="216.7">X</text>
<text class="ra" transform="translate(783.9,211.5) scale(1.42,1)">→</text>
<text class="lbl" x="906.7" y="216.7">9</text>
<text class="lbl" x="722.7" y="320">Y</text>
<text class="ra" transform="translate(782.2,309.5) scale(1.42,1)">→</text>
<text class="lbl" x="906" y="320">2</text>
</g>

<g id="label2">
<rect class="hl" x="2151" y="135" width="45.7" height="103.3"/>
<rect class="hl" x="1970.7" y="238.3" width="76" height="101.7"/>
<rect class="hl" x="2150" y="238.3" width="45.7" height="101.7"/>
<text class="lbl" x="1970" y="115" letter-spacing="-1.4">Next iteration</text>
<text class="lbl" x="1972.5" y="216.7">X</text>
<text class="ra" transform="translate(2028.9,211.5) scale(1.42,1)">→</text>
<text class="lbl" x="2151" y="216.7">9</text>
<text class="lbl" x="1970.7" y="319.3">Y</text>
<text class="ra" transform="translate(2027.9,309.8) scale(1.42,1)">→</text>
<text class="lbl" x="2150" y="319.3">2</text>
<text class="lbl" x="1971" y="423.3">Z</text>
<text class="ra" transform="translate(2025.6,411.3) scale(1.42,1)">→</text>
<text class="lbl" x="2146.5" y="423.3">3</text>
</g>

<g id="arrow1">
<rect class="hl" x="723.3" y="830.7" width="85.7" height="102"/>
<text class="arr" x="705.1" y="909.6">←</text>
</g>

<g id="arrow2">
<rect class="hl" x="1971.7" y="1211.7" width="85.6" height="101.6"/>
<text class="arr" x="1953.4" y="1289.6">←</text>
</g>
</svg>
